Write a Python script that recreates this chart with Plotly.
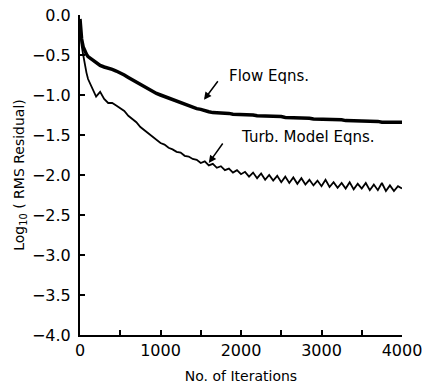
import plotly.graph_objects as go

iterations = [0, 10, 20, 40, 60, 80] + list(range(100, 4001, 50))

flow_eqns = [-0.05, -0.18, -0.30, -0.40, -0.45, -0.49,
             -0.52, -0.56, -0.60, -0.63, -0.65, -0.66, -0.68, -0.70, -0.72, -0.75,
             -0.78, -0.81, -0.84, -0.87, -0.90, -0.93, -0.95, -0.98, -1.00, -1.02,
             -1.04, -1.06, -1.08, -1.10, -1.12, -1.14, -1.16, -1.17, -1.18, -1.20,
             -1.21, -1.22, -1.22, -1.23, -1.23, -1.23, -1.24, -1.24, -1.24, -1.25,
             -1.25, -1.25, -1.26, -1.26, -1.26, -1.26, -1.27, -1.27, -1.27, -1.28,
             -1.28, -1.28, -1.29, -1.29, -1.29, -1.29, -1.30, -1.30, -1.30, -1.30,
             -1.31, -1.31, -1.31, -1.31, -1.32, -1.32, -1.32, -1.32, -1.33, -1.33,
             -1.33, -1.33, -1.33, -1.34, -1.34, -1.34, -1.34, -1.34, -1.34]

turb_model_eqns = [-0.10, -0.25, -0.38, -0.50, -0.62, -0.72,
                   -0.80, -0.90, -1.02, -0.96, -1.05, -1.10, -1.10, -1.13, -1.17, -1.20,
                   -1.26, -1.30, -1.34, -1.40, -1.44, -1.48, -1.52, -1.55, -1.60, -1.62,
                   -1.66, -1.68, -1.71, -1.72, -1.76, -1.77, -1.80, -1.81, -1.85, -1.83,
                   -1.88, -1.86, -1.91, -1.89, -1.94, -1.92, -1.97, -1.94, -1.99, -1.96,
                   -2.02, -1.97, -2.04, -1.98, -2.06, -2.00, -2.07, -2.01, -2.09, -2.02,
                   -2.10, -2.03, -2.11, -2.04, -2.12, -2.06, -2.13, -2.07, -2.14, -2.06,
                   -2.15, -2.09, -2.16, -2.10, -2.17, -2.09, -2.18, -2.11, -2.17, -2.10,
                   -2.19, -2.12, -2.19, -2.10, -2.20, -2.13, -2.20, -2.14, -2.17]

x_ticks = [0, 1000, 2000, 3000, 4000]
y_ticks = [0.0, -0.5, -1.0, -1.5, -2.0, -2.5, -3.0, -3.5, -4.0]

FONT = "DejaVu Sans"

fig = go.Figure()
fig.add_trace(go.Scatter(x=iterations, y=flow_eqns, mode="lines",
                         line=dict(color="black", width=3.5), name="Flow Eqns."))
fig.add_trace(go.Scatter(x=iterations, y=turb_model_eqns, mode="lines",
                         line=dict(color="black", width=1.8), name="Turb. Model Eqns."))

fig.add_annotation(x=1540, y=-1.06, ax=15, ay=-20, xref="x", yref="y",
                   text="", showarrow=True, arrowhead=2, arrowsize=1,
                   arrowwidth=1.5, arrowcolor="black", standoff=0)
fig.add_annotation(x=2350, y=-0.76, xref="x", yref="y", text="Flow Eqns.",
                   showarrow=False, font=dict(family=FONT, size=15, color="black"))
fig.add_annotation(x=1600, y=-1.85, ax=15, ay=-21, xref="x", yref="y",
                   text="", showarrow=True, arrowhead=2, arrowsize=1,
                   arrowwidth=1.5, arrowcolor="black", standoff=0)
fig.add_annotation(x=2830, y=-1.525, xref="x", yref="y", text="Turb. Model Eqns.",
                   showarrow=False, font=dict(family=FONT, size=15, color="black"))

fig.update_layout(
    width=422, height=385,
    margin=dict(l=80, r=20, t=15, b=50, autoexpand=False),
    paper_bgcolor="white", plot_bgcolor="white",
    showlegend=False,
    font=dict(family=FONT, color="black"),
)
fig.update_xaxes(
    range=[0, 4000], tickvals=list(range(0, 4001, 500)),
    ticktext=[str(v) if v in x_ticks else "" for v in range(0, 4001, 500)],
    ticks="inside", ticklen=5, tickwidth=1.5, tickcolor="black",
    showline=True, linewidth=2, linecolor="black", showgrid=False, zeroline=False,
    automargin=False, ticklabeloverflow="allow",
    tickfont=dict(family=FONT, size=16, color="black"),
    title=dict(text="No. of Iterations", font=dict(family=FONT, size=14), standoff=12),
)
fig.update_yaxes(
    range=[-4, 0], tickvals=y_ticks, tickformat=".1f",
    ticks="inside", ticklen=5, tickwidth=1.5, tickcolor="black",
    showline=True, linewidth=2, linecolor="black", showgrid=False, zeroline=False,
    automargin=False, ticklabelstandoff=4, ticklabeloverflow="allow",
    tickfont=dict(family=FONT, size=16, color="black"),
    title=dict(text="Log<sub>10</sub> ( RMS Residual)", font=dict(family=FONT, size=14), standoff=4),
)

fig.write_html("out.html", config={"displayModeBar": False},
               post_script="document.body.style.margin='0';document.body.style.padding='0';")
